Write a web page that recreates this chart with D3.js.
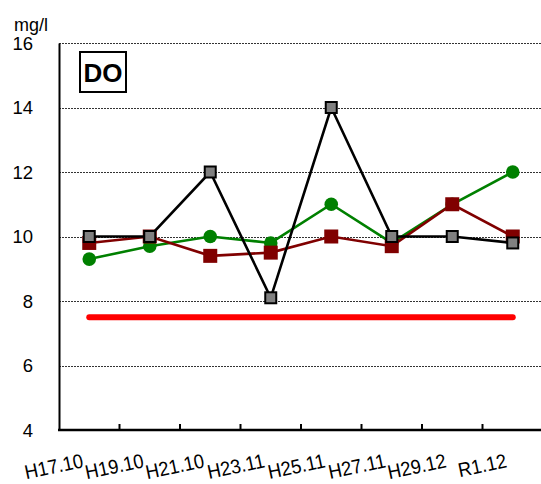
<!DOCTYPE html>
<html>
<head>
<meta charset="utf-8">
<script src="https://cdn.jsdelivr.net/npm/d3@7/dist/d3.min.js"></script>
<style>
  html, body { margin: 0; padding: 0; background: #fff; }
  svg { display: block; }
  text { font-family: "Liberation Sans", Arial, sans-serif; fill: #000; }
</style>
</head>
<body>
<script>
// ---- data ----
const categories = ["H17.10", "H19.10", "H21.10", "H23.11", "H25.11", "H27.11", "H29.12", "R1.12"];
const seriesGray  = [10.0, 10.0, 12.0, 8.1, 14.0, 10.0, 10.0, 9.8];
const seriesRed   = [9.8, 10.0, 9.4, 9.5, 10.0, 9.7, 11.0, 10.0];
const seriesGreen = [9.3, 9.7, 10.0, 9.8, 11.0, 9.8, 11.0, 12.0];
const standardValue = 7.5;
const yTicks = [4, 6, 8, 10, 12, 14, 16];
const unitLabel = "mg/l";
const titleLabel = "DO";

// ---- layout ----
const W = 541, H = 484;
const mLeft = 59, mRight = 543, mTop = 43, mBottom = 430;

const svg = d3.select("body").append("svg").attr("width", W).attr("height", H);

const x = d3.scaleBand().domain(categories).range([mLeft, mRight]).padding(0);
const y = d3.scaleLinear().domain([4, 16]).range([mBottom, mTop]);
const cx = d => x(d) + x.bandwidth() / 2;

// gridlines
svg.append("g").selectAll("line").data(yTicks.filter(t => t > 4)).join("line")
  .attr("x1", mLeft).attr("x2", W)
  .attr("y1", d => Math.round(y(d)) + 0.5).attr("y2", d => Math.round(y(d)) + 0.5)
  .attr("stroke", "#333").attr("stroke-width", 1.2).attr("stroke-dasharray", "2,1");

// y axis
const yAxis = d3.axisLeft(y).tickValues(yTicks).tickSize(0).tickPadding(26).tickFormat(d3.format("d"));
const gy = svg.append("g").attr("transform", `translate(${mLeft},0)`).call(yAxis);
gy.select(".domain").attr("stroke", "#000").attr("stroke-width", 2);
gy.selectAll("text").style("font-size", "18.5px").attr("dy", "0.35em")
  .style("font-family", "'Liberation Sans', Arial, sans-serif");

// x axis (ticks at category boundaries, pointing inward)
const boundaries = d3.range(1, categories.length).map(i => x(categories[i]));
svg.append("g").selectAll("line").data(boundaries).join("line")
  .attr("x1", d => d).attr("x2", d => d)
  .attr("y1", mBottom).attr("y2", mBottom - 6)
  .attr("stroke", "#000").attr("stroke-width", 2);
svg.append("line").attr("x1", mLeft - 1).attr("x2", W).attr("y1", mBottom).attr("y2", mBottom)
  .attr("stroke", "#000").attr("stroke-width", 2.5);

// x labels
svg.append("g").selectAll("text").data(categories).join("text")
  .attr("text-anchor", "end")
  .attr("transform", d => `translate(${cx(d) - 5},${467}) rotate(-12) scale(0.92,1)`)
  .style("font-size", "20px")
  .text(d => d);

// unit label
svg.append("text").attr("x", 14).attr("y", 31).style("font-size", "18px").text(unitLabel);

// title box
svg.append("rect").attr("x", 80).attr("y", 52).attr("width", 46).attr("height", 40)
  .attr("fill", "#fff").attr("stroke", "#000").attr("stroke-width", 2);
svg.append("text").attr("x", 103).attr("y", 82).attr("text-anchor", "middle")
  .style("font-size", "26px").style("font-weight", "bold").text(titleLabel);

// standard line
svg.append("line")
  .attr("x1", cx(categories[0])).attr("x2", cx(categories[categories.length - 1]))
  .attr("y1", y(standardValue)).attr("y2", y(standardValue))
  .attr("stroke", "#ff0000").attr("stroke-width", 6).attr("stroke-linecap", "round");

const line = d3.line().x((d, i) => cx(categories[i])).y(d => y(d));

// green series
svg.append("path").datum(seriesGreen).attr("d", line)
  .attr("fill", "none").attr("stroke", "#008000").attr("stroke-width", 2.6);
svg.append("g").selectAll("circle").data(seriesGreen).join("circle")
  .attr("cx", (d, i) => cx(categories[i])).attr("cy", d => y(d)).attr("r", 6.8)
  .attr("fill", "#008000");

// red series
svg.append("path").datum(seriesRed).attr("d", line)
  .attr("fill", "none").attr("stroke", "#800000").attr("stroke-width", 2.6);
svg.append("g").selectAll("rect").data(seriesRed).join("rect")
  .attr("x", (d, i) => cx(categories[i]) - 7).attr("y", d => y(d) - 7)
  .attr("width", 14).attr("height", 14).attr("fill", "#800000");

// gray series
svg.append("path").datum(seriesGray).attr("d", line)
  .attr("fill", "none").attr("stroke", "#000").attr("stroke-width", 2.6);
svg.append("g").selectAll("rect").data(seriesGray).join("rect")
  .attr("x", (d, i) => cx(categories[i]) - 5.5).attr("y", d => y(d) - 5.5)
  .attr("width", 11).attr("height", 11).attr("fill", "#808080")
  .attr("stroke", "#000").attr("stroke-width", 2);
</script>
</body>
</html>
